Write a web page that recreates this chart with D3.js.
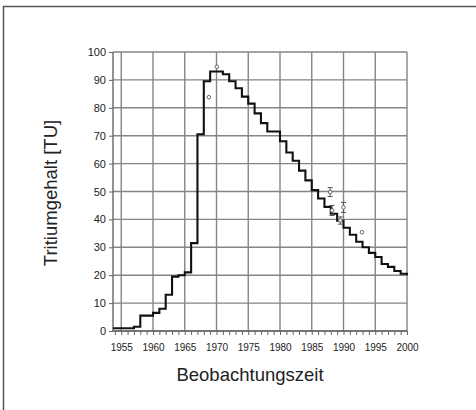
<!DOCTYPE html>
<html>
<head>
<meta charset="utf-8">
<script src="https://cdn.jsdelivr.net/npm/d3@7"></script>
<style>
  html, body { margin: 0; padding: 0; background: #fff; }
  svg { display: block; }
  text { font-family: "Liberation Sans", Arial, sans-serif; fill: #222; }
</style>
</head>
<body>
<script>
// ---- data ----
const stepYears = [1954,1955,1956,1957,1958,1959,1960,1961,1962,1963,1964,1965,1966,1967,1968,1969,1970,
  1971,1972,1973,1974,1975,1976,1977,1978,1979,1980,1981,1982,1983,1984,1985,1986,1987,1988,1989,
  1990,1991,1992,1993,1994,1995,1996,1997,1998,1999,2000];
const stepValues = [1,1,1,1.5,5.5,5.5,6.5,8,13,19.5,20,21,31.5,70.5,89.5,93,93,
  92,89.5,87,84,81.5,78,74.5,71.5,71.5,68,64,61,57.5,54,50.5,47.5,44.5,42,39.5,
  37,34.5,32,30,28,26.5,24,23,21.5,20.5,20];
const obsYears  = [1968.8, 1970.05, 1987.9, 1988.2, 1989.5, 1990.0, 1992.9];
const obsValues = [83.8, 94.7, 49.8, 43.2, 39.6, 44.3, 35.4];
const obsErrors = [0, 0, 1.6, 1.8, 1.3, 1.8, 0];
const xTickLabels = [1955,1960,1965,1970,1975,1980,1985,1990,1995,2000];
const yTickLabels = [0,10,20,30,40,50,60,70,80,90,100];
const xTitle = "Beobachtungszeit";
const yTitle = "Tritiumgehalt [TU]";

(function () {
// ---- layout ----
const W = 476, H = 410;
const mLeft = 113, mRight = 407, mTop = 52, mBottom = 331;
const gridColor = "#858585";

const svg = d3.select("body").append("svg").attr("width", W).attr("height", H);

// outer frame
svg.append("path")
  .attr("d", `M3.5,${H} L3.5,6.5 L${W},6.5`)
  .attr("fill", "none").attr("stroke", "#555").attr("stroke-width", 1.5);

const x = d3.scaleLinear().domain([1953.7, 2000]).range([mLeft, mRight]);
const y = d3.scaleLinear().domain([0, 100]).range([mBottom, mTop]);

// gridlines
const g = svg.append("g");
g.selectAll("line.vg").data(xTickLabels).join("line").attr("class", "vg")
  .attr("x1", d => x(d)).attr("x2", d => x(d))
  .attr("y1", mTop).attr("y2", mBottom)
  .attr("stroke", gridColor).attr("stroke-width", 1.4);
g.selectAll("line.hg").data(yTickLabels).join("line").attr("class", "hg")
  .attr("x1", mLeft).attr("x2", mRight)
  .attr("y1", d => y(d)).attr("y2", d => y(d))
  .attr("stroke", gridColor).attr("stroke-width", 1.4);
g.append("line").attr("x1", mLeft).attr("x2", mLeft).attr("y1", mTop).attr("y2", mBottom)
  .attr("stroke", "#666").attr("stroke-width", 1.4);

// y axis
const yAxis = d3.axisLeft(y).tickValues(yTickLabels).tickSize(4).tickPadding(3);
const ya = svg.append("g").attr("transform", `translate(${mLeft},0)`).call(yAxis);
ya.select(".domain").remove();
ya.selectAll(".tick line").attr("stroke", "#666");
ya.selectAll(".tick text").attr("font-size", 11).attr("fill", "#222")
  .style("font-family", "Liberation Sans, Arial, sans-serif");

// x axis: minor ticks each year, labels every 5
const xAxis = d3.axisBottom(x).tickValues(d3.range(1954, 2001)).tickSize(4)
  .tickFormat(d => xTickLabels.includes(d) ? String(d) : "").tickPadding(9);
const xa = svg.append("g").attr("transform", `translate(0,${mBottom})`).call(xAxis);
xa.select(".domain").attr("d", `M${mLeft},0H${mRight}`).attr("stroke", "#666").attr("stroke-width", 1.4);
xa.selectAll(".tick line").attr("stroke", "#666");
xa.selectAll(".tick text").attr("font-size", 10).attr("fill", "#222")
  .style("font-family", "Liberation Sans, Arial, sans-serif");

// step line
const pts = stepYears.map((yr, i) => [i === 0 ? x.domain()[0] : yr, stepValues[i]]);
const line = d3.line().x(d => x(d[0])).y(d => y(d[1])).curve(d3.curveStepAfter);
svg.append("path").datum(pts)
  .attr("d", line)
  .attr("fill", "none").attr("stroke", "#111").attr("stroke-width", 2.1);

// observations with error bars
const obs = obsYears.map((yr, i) => ({ yr, v: obsValues[i], e: obsErrors[i] }));
const og = svg.append("g");
obs.filter(d => d.e > 0).forEach(d => {
  og.append("line").attr("x1", x(d.yr)).attr("x2", x(d.yr))
    .attr("y1", y(d.v - d.e)).attr("y2", y(d.v + d.e)).attr("stroke", "#555").attr("stroke-width", 1);
  [d.v - d.e, d.v + d.e].forEach(v => {
    og.append("line").attr("x1", x(d.yr) - 2.5).attr("x2", x(d.yr) + 2.5)
      .attr("y1", y(v)).attr("y2", y(v)).attr("stroke", "#555").attr("stroke-width", 1);
  });
});
og.selectAll("circle").data(obs).join("circle")
  .attr("cx", d => x(d.yr)).attr("cy", d => y(d.v)).attr("r", 1.8)
  .attr("fill", "#fff").attr("stroke", "#666").attr("stroke-width", 1);

// titles
svg.append("text").attr("x", 250).attr("y", 381).attr("text-anchor", "middle")
  .attr("font-size", 18.5).text(xTitle);
svg.append("text").attr("transform", "translate(57,193) rotate(-90)").attr("text-anchor", "middle")
  .attr("font-size", 18.5).text(yTitle);
})();
</script>
</body>
</html>
